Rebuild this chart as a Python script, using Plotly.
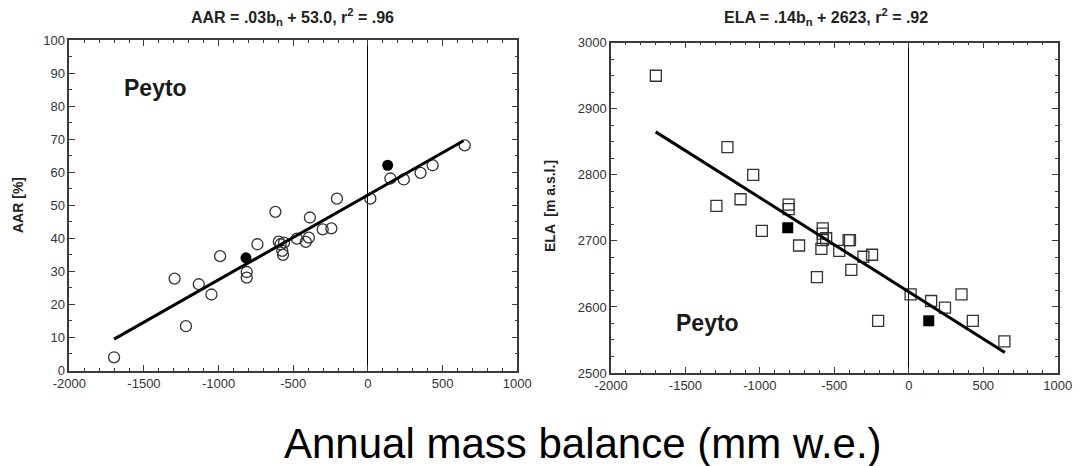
import plotly.graph_objects as go

W, H = 1080, 466

# ---------------- data ----------------
aar_bn_open = [-1700, -1295, -1219, -1133, -1048, -990, -812, -812, -740, -620,
               -597, -585, -574, -569, -562, -476, -416, -396, -389, -303,
               -245, -208, 16, 150, 240, 352, 433, 648]
aar_open = [4, 27.8, 13.4, 26.1, 23, 34.6, 29.8, 28.1, 38.2, 48,
            39, 38.2, 36.2, 35, 38.7, 39.9, 38.9, 40.2, 46.3, 42.7,
            43, 52, 52, 58.1, 57.8, 59.8, 62.1, 68.1]
aar_bn_fill = [-817, 132]
aar_fill = [34.1, 62.1]
aar_fit_x = [-1700, 640]
aar_fit_y = [9.5, 69.5]

ela_bn_open = [-1699, -1292, -1218, -1130, -1045, -987, -807, -807, -737, -617,
               -587, -578, -578, -578, -555, -467, -404, -395, -386, -305,
               -247, -206, 12, 150, 243, 354, 430, 642]
ela_open = [2950, 2753, 2842, 2763, 2800, 2715, 2755, 2748, 2693, 2645,
            2688, 2719, 2711, 2701, 2704, 2685, 2701, 2701, 2656, 2676,
            2679, 2579, 2619, 2609, 2599, 2619, 2579, 2548]
ela_bn_fill = [-813, 134]
ela_fill = [2720, 2579]
ela_fit_x = [-1700, 645]
ela_fit_y = [2865, 2531]

x_tickvals = [-2000, -1500, -1000, -500, 0, 500, 1000]
x_ticktext = ["-2000", "-1500", "-1000", "-500", "0", "500", "1000"]
aar_tickvals = [0, 10, 20, 30, 40, 50, 60, 70, 80, 90, 100]
ela_tickvals = [2500, 2600, 2700, 2800, 2900, 3000]

title_left = "AAR = .03b<sub>n</sub> + 53.0, r<sup>2</sup> = .96"
title_right = "ELA = .14b<sub>n</sub> + 2623, r<sup>2</sup> = .92"
ylab_left = "AAR [%]"
ylab_right = "ELA  [m a.s.l.]"
xlab = "Annual mass balance (mm w.e.)"
site = "Peyto"

FONT = "Arial, Liberation Sans, sans-serif"
AX = "#3a3a3a"


def px_x(p):
    return p / W


def px_y(p):
    return (H - p) / H


fig = go.Figure()

mk_line = dict(color="#333333", width=1.3)

# left panel
fig.add_trace(go.Scatter(x=aar_bn_open, y=aar_open, mode="markers",
                         marker=dict(symbol="circle-open", size=11, line=mk_line, color="#333333"),
                         xaxis="x", yaxis="y", showlegend=False))
fig.add_trace(go.Scatter(x=aar_bn_fill, y=aar_fill, mode="markers",
                         marker=dict(symbol="circle", size=11, color="black"),
                         xaxis="x", yaxis="y", showlegend=False))
fig.add_trace(go.Scatter(x=aar_fit_x, y=aar_fit_y, mode="lines",
                         line=dict(color="black", width=3),
                         xaxis="x", yaxis="y", showlegend=False))

# right panel
fig.add_trace(go.Scatter(x=ela_bn_open, y=ela_open, mode="markers",
                         marker=dict(symbol="square-open", size=11, line=mk_line, color="#333333"),
                         xaxis="x2", yaxis="y2", showlegend=False))
fig.add_trace(go.Scatter(x=ela_bn_fill, y=ela_fill, mode="markers",
                         marker=dict(symbol="square", size=11, color="black"),
                         xaxis="x2", yaxis="y2", showlegend=False))
fig.add_trace(go.Scatter(x=ela_fit_x, y=ela_fit_y, mode="lines",
                         line=dict(color="black", width=3),
                         xaxis="x2", yaxis="y2", showlegend=False))

tickfont = dict(family=FONT, size=13, color="#333333")


def xaxis(domain, anchor):
    return dict(domain=domain, anchor=anchor, range=[-2000, 1000],
                tickmode="array", tickvals=x_tickvals, ticktext=x_ticktext,
                showgrid=False, zeroline=True, zerolinecolor="black", zerolinewidth=1,
                showline=True, linecolor=AX, linewidth=1.5, mirror="allticks",
                ticks="inside", ticklen=6, tickwidth=1.2, tickcolor=AX,
                minor=dict(dtick=100, tick0=0, ticks="inside", ticklen=3, tickwidth=1, tickcolor=AX),
                tickfont=tickfont, fixedrange=True)


def yaxis(domain, anchor, rng, vals, mdt):
    return dict(domain=domain, anchor=anchor, range=rng,
                tickmode="array", tickvals=vals, ticktext=[str(v) for v in vals],
                showgrid=False, zeroline=False,
                showline=True, linecolor=AX, linewidth=1.5, mirror="allticks",
                ticks="inside", ticklen=6, tickwidth=1.2, tickcolor=AX,
                minor=dict(dtick=mdt, tick0=rng[0], ticks="inside", ticklen=3, tickwidth=1, tickcolor=AX),
                tickfont=tickfont, fixedrange=True)


fig.update_layout(
    width=W, height=H, margin=dict(l=0, r=0, t=0, b=0),
    paper_bgcolor="white", plot_bgcolor="white", template="none",
    xaxis=xaxis([px_x(69.3), px_x(517.3)], "y"),
    yaxis=yaxis([px_y(370.5), px_y(40)], "x", [0, 100], aar_tickvals, 5),
    xaxis2=xaxis([px_x(611), px_x(1057.7)], "y2"),
    yaxis2=yaxis([px_y(373), px_y(42.7)], "x2", [2500, 3000], ela_tickvals, 25),
)

ann = []
ann.append(dict(text="<b>%s</b>" % title_left, x=px_x(292), y=px_y(17), xref="paper", yref="paper",
                showarrow=False, xanchor="center", yanchor="middle",
                font=dict(family=FONT, size=16, color="#222")))
ann.append(dict(text="<b>%s</b>" % title_right, x=px_x(826), y=px_y(17), xref="paper", yref="paper",
                showarrow=False, xanchor="center", yanchor="middle",
                font=dict(family=FONT, size=16, color="#222")))
ann.append(dict(text="<b>%s</b>" % ylab_left, x=px_x(18), y=px_y(205), xref="paper", yref="paper",
                showarrow=False, textangle=-90, xanchor="center", yanchor="middle",
                font=dict(family=FONT, size=14, color="#222")))
ann.append(dict(text="<b>%s</b>" % ylab_right, x=px_x(550), y=px_y(206), xref="paper", yref="paper",
                showarrow=False, textangle=-90, xanchor="center", yanchor="middle",
                font=dict(family=FONT, size=14, color="#222")))
ann.append(dict(text=xlab, x=px_x(583), y=px_y(443), xref="paper", yref="paper",
                showarrow=False, xanchor="center", yanchor="middle",
                font=dict(family=FONT, size=42, color="black")))
ann.append(dict(text="<b>%s</b>" % site, x=-1650, y=85.5, xref="x", yref="y",
                showarrow=False, xanchor="left", yanchor="middle",
                font=dict(family=FONT, size=23, color="#1a1a1a")))
ann.append(dict(text="<b>%s</b>" % site, x=-1580, y=2576, xref="x2", yref="y2",
                showarrow=False, xanchor="left", yanchor="middle",
                font=dict(family=FONT, size=23, color="#1a1a1a")))

fig.update_layout(annotations=ann)

fig.write_html("out.html", config={"displayModeBar": False})
